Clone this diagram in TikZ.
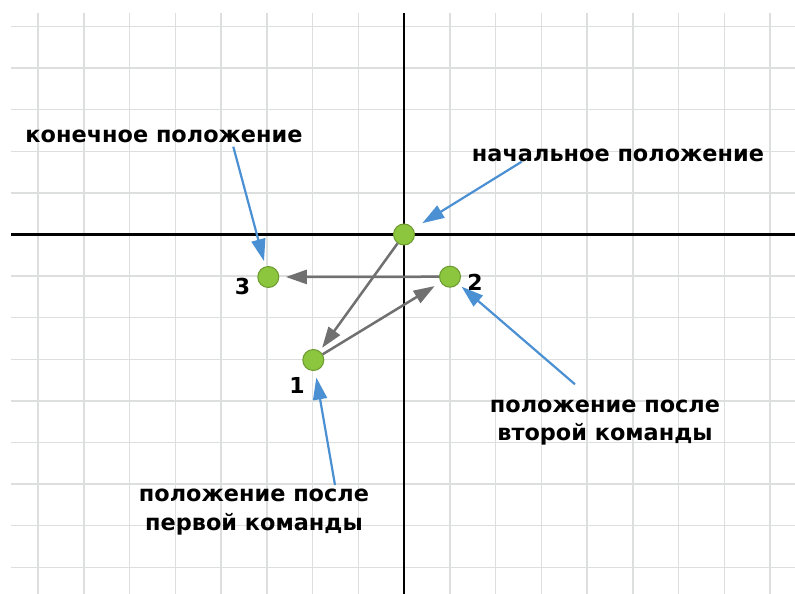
\documentclass[tikz,border=0pt]{standalone}
\usepackage{fontspec}
\setmainfont{DejaVu Sans}
\usetikzlibrary{arrows.meta}
\definecolor{gridc}{HTML}{DDDFDF}
\definecolor{ptfill}{HTML}{8CC63F}
\definecolor{ptdraw}{HTML}{6B9A2E}
\definecolor{grayarr}{HTML}{707070}
\definecolor{bluearr}{HTML}{4A90D2}
\tikzset{
  gridline/.style={draw=gridc, line width=1.5pt},
  axisline/.style={draw=black, line width=2.5pt},
  pt/.style={circle, fill=ptfill, draw=ptdraw, line width=1pt, minimum size=21pt, inner sep=0pt},
  movearr/.style={draw=grayarr, line width=2.5pt, -{Triangle[length=21pt,width=14pt]}},
  callout/.style={draw=bluearr, line width=2.2pt, -{Triangle[length=22pt,width=14pt]}},
  lbl/.style={font=\fontsize{22.4}{28.5}\selectfont\bfseries, inner sep=0pt, align=center},
  num/.style={font=\fontsize{22}{28}\selectfont\bfseries, inner sep=0pt, anchor=base},
}
\begin{document}
\begin{tikzpicture}[x=1pt,y=-1pt]
\fill[white] (0,0) rectangle (795,594);
\useasboundingbox (0,0) rectangle (795,594);
% grid
\foreach \k in {-8,...,8} {\draw[gridline] ({404+45.75*\k},13) -- ({404+45.75*\k},594);}
\foreach \j in {-5,...,8} {\draw[gridline] (11,{234.5+41.6*\j}) -- (795,{234.5+41.6*\j});}
% axes
\draw[axisline] (404,13) -- (404,594);
\draw[axisline] (11,234.5) -- (795,234.5);
% points
\node[pt] (p0) at (404,234.5) {};
\node[pt] (p1) at (313.3,360) {};
\node[pt] (p2) at (450,276.7) {};
\node[pt] (p3) at (268.3,277) {};
% moves
\draw[movearr, shorten >=4pt] (p0) -- (p1);
\draw[movearr, shorten >=7pt] (p1) -- (p2);
\draw[movearr, shorten >=6.5pt] (p2) -- (p3);
% number labels
\node[num] (l1) at (297,393) {1};
\node[num] (l2) at (475,290) {2};
\node[num] (l3) at (242.5,294) {3};
% texts
\node[lbl, anchor=base] (t3) at (164,142) {конечное положение};
\node[lbl, anchor=base] (t0) at (618,161) {начальное положение};
\node[lbl, anchor=north] (t2) at (605,399.5) {положение после\\второй команды};
\node[lbl, anchor=north] (t1) at (254,489) {положение после\\первой команды};
% callout arrows
\coordinate (c3) at (233.3,146.7);
\coordinate (c0) at (521.7,161.7);
\coordinate (c2) at (575,384.3);
\coordinate (c1) at (335,485);
\draw[callout, shorten >=5.5pt] (c3) -- (p3);
\draw[callout, shorten >=10.5pt] (c0) -- (p0);
\draw[callout, shorten >=4.3pt] (c2) -- (p2);
\draw[callout, shorten >=6.8pt] (c1) -- (p1);
\end{tikzpicture}
\end{document}
